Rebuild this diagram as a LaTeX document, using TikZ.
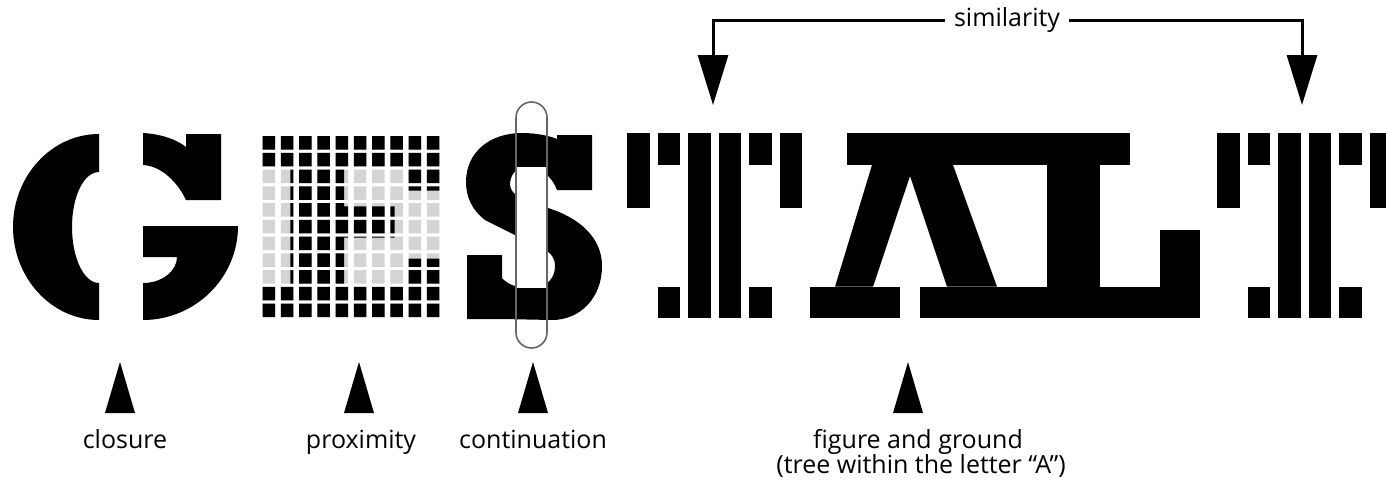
\documentclass[tikz,border=0pt]{standalone}
\usepackage{fontspec}
\setmainfont{Open Sans}
\usetikzlibrary{arrows.meta,calc}

% one striped T, #1 = left edge of its first bar
\newcommand{\stripedT}[1]{%
  \foreach \i/\b in {0/208.3,2/318.3,3/318.3,5/208.3}
    \fill (#1+30.5*\i,133.3) rectangle (#1+30.5*\i+22.5,\b);
  \foreach \i in {1,4} {
    \fill (#1+30.5*\i,133.3) rectangle (#1+30.5*\i+22.5,165);
    \fill (#1+30.5*\i,286.7) rectangle (#1+30.5*\i+22.5,318.3);
  }%
}
% triangle pointing up to a named tip
\newcommand{\pointer}[1]{%
  \fill ($(#1)+(-15,51)$) -- (#1) -- ($(#1)+(15,51)$) -- cycle;}
\newcommand{\cells}{%
  \foreach \i in {0,...,9} {\foreach \j in {0,...,10} {
    (262.7+18.25*\i,136+16.75*\j) rectangle ++(12.5,13.5) }}}

\begin{document}
\begin{tikzpicture}[x=1pt,y=-1pt,>=Stealth,
    every node/.style={font=\fontsize{25}{25}\selectfont},
    cellgrey/.style={fill=black!17},
    capsule/.style={draw=black!60,line width=1.6pt,rounded corners=15.5pt}]
  \useasboundingbox (0,0) rectangle (1386,483);

  % G
  \fill (99,134) .. controls (51.5,134) and (13,176) .. (13,227)
    .. controls (13,278) and (51.5,320) .. (99,320) -- (99,283)
    .. controls (84,283) and (72,258) .. (72,227)
    .. controls (72,196) and (84,172) .. (99,172) -- cycle;
  \fill (143,133) .. controls (160,134) and (176,139) .. (186,147)
    -- (186,134) -- (221,134) -- (221,200) -- (186,200)
    .. controls (178,183) and (162,166) .. (143,165) -- cycle;
  \fill (143,226) -- (238,226) .. controls (238,278) and (195,320) .. (143,320)
    -- (143,283) .. controls (162,283) and (177,271) .. (177,257)
    -- (143,257) -- cycle;

  % E made of cells
  \path[cellgrey] \cells;
  \begin{scope}
    \clip \cells;
    \fill (250,125) -- (450,125) -- (450,190.7) -- (406,190.7) -- (406,168)
      -- (344.2,168) -- (344.2,206.3) -- (394.5,206.3) -- (394.5,237.5)
      -- (344.2,237.5) -- (344.2,285) -- (406,285) -- (406,258.5)
      -- (450,258.5) -- (450,330) -- (250,330) -- (250,285) -- (290.4,285)
      -- (290.4,168) -- (250,168) -- cycle;
  \end{scope}

  % S
  \fill (592,135) -- (592,190) -- (557,190)
    .. controls (552,176) and (540,167) .. (526,167)
    .. controls (516,167) and (510,175) .. (510,185)
    .. controls (511,196) and (525,201) .. (548,208)
    .. controls (580,218) and (602,238) .. (602,266)
    .. controls (602,298) and (580,320) .. (552,320)
    -- (502,319) -- (467,319) -- (467,255) -- (502,255) -- (502,278)
    .. controls (508,285) and (518,288) .. (530,288)
    .. controls (545,288) and (555,280) .. (555,266)
    .. controls (555,258) and (551,253) .. (545,250)
    -- (485,220)
    .. controls (472,210) and (466,197) .. (466,182)
    .. controls (466,152) and (490,133) .. (522,133)
    .. controls (537,133) and (550,136) .. (557,139)
    -- (557,135) -- cycle;
  \fill[white] (517,167) rectangle (546,288);
  \draw[capsule] (516,102) rectangle (547,348);

  % T A L T
  \stripedT{627.3}
  \fill (847,133.3) rectangle (1130,165);
  \fill (872,165) -- (953,165) -- (997,286.7) -- (947,286.7) -- (910,176)
    -- (873,286.7) -- (835,286.7) -- cycle;
  \fill (810,286.7) rectangle (900,318.3);
  \fill (1047,165) rectangle (1100,286.7);
  \fill (920,286.7) rectangle (1200,318.3);
  \fill (1160,230) rectangle (1200,286.7);
  \stripedT{1217.3}

  % similarity
  \node[inner xsep=9pt] (sim) at (1007,20) {similarity};
  \coordinate (t1tip) at (713,105);
  \coordinate (t2tip) at (1302,105);
  \draw[line width=3pt,-{Triangle[length=50pt,width=30pt]}] (sim.west) -| (t1tip);
  \draw[line width=3pt,-{Triangle[length=50pt,width=30pt]}] (sim.east) -| (t2tip);

  % pointers and labels
  \coordinate (gtip) at (120,362);
  \coordinate (etip) at (359,362);
  \coordinate (stip) at (533,362);
  \coordinate (atip) at (908,362);
  \foreach \t in {gtip,etip,stip,atip} {\pointer{\t}}
  \node[anchor=base] (closure) at (125,448) {closure};
  \node[anchor=base] (proximity) at (361,448) {proximity};
  \node[anchor=base] (continuation) at (533,448) {continuation};
  \node[anchor=base] (figground) at (918,448) {figure and ground};
  \node[anchor=base] (tree) at (921,473) {(tree within the letter “A”)};
\end{tikzpicture}
\end{document}
